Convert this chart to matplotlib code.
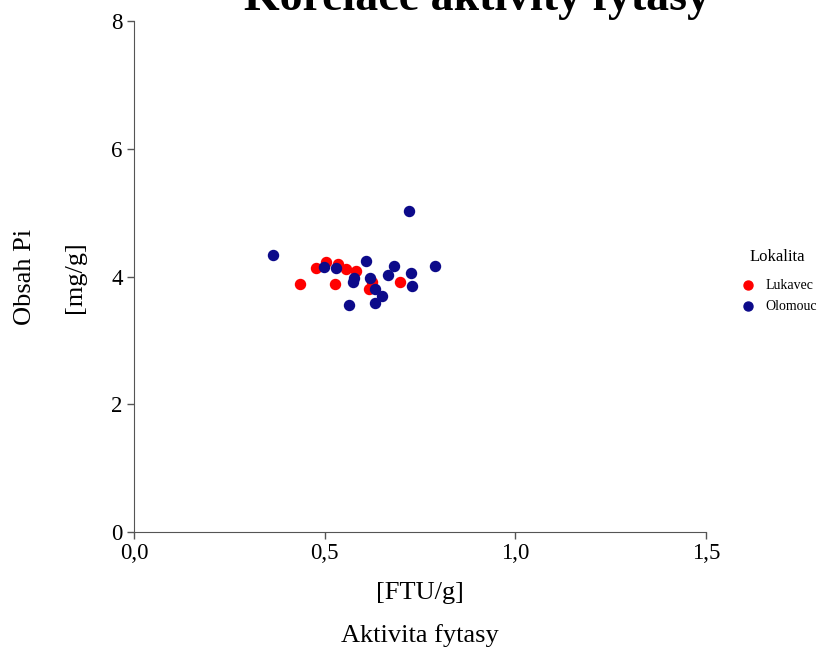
import numpy as np
import matplotlib
matplotlib.use("Agg")
import matplotlib.pyplot as plt

plt.rcParams['font.family'] = ['Liberation Serif', 'DejaVu Serif']

# Lukavec
luk_x = [0.504, 0.477, 0.536, 0.555, 0.582, 0.435, 0.527, 0.698, 0.623, 0.615]
luk_y = [4.23, 4.13, 4.19, 4.12, 4.08, 3.89, 3.89, 3.91, 3.92, 3.81]

# Olomouc
olo_x = [0.364, 0.721, 0.609, 0.681, 0.789, 0.497, 0.529, 0.725, 0.667,
         0.578, 0.575, 0.618, 0.730, 0.631, 0.651, 0.565, 0.632]
olo_y = [4.34, 5.02, 4.24, 4.17, 4.17, 4.15, 4.13, 4.06, 4.03,
         3.97, 3.91, 3.97, 3.85, 3.80, 3.70, 3.56, 3.58]

xticks = [0.0, 0.5, 1.0, 1.5]
xticklabels = ['0,0', '0,5', '1,0', '1,5']
yticks = [0, 2, 4, 6, 8]

fig = plt.figure(figsize=(8.22, 6.53), dpi=100)
ax = fig.add_axes([0.163, 0.1853, 0.696, 0.7825])

ax.scatter(luk_x, luk_y, s=52, color='#ff0000', label='Lukavec', zorder=3)
ax.scatter(olo_x, olo_y, s=52, color='#0c0a8a', label='Olomouc', zorder=3)

ax.set_xlim(0, 1.5)
ax.set_ylim(0, 8)
ax.set_xticks(xticks)
ax.set_xticklabels(xticklabels)
ax.set_yticks(yticks)
ax.tick_params(labelsize=16.5, length=5, width=1, color='#555555', pad=3)
for s in ['top', 'right']:
    ax.spines[s].set_visible(False)
for s in ['left', 'bottom']:
    ax.spines[s].set_color('#555555')

fig.text(25 / 822, 1 - 277 / 653, 'Obsah Pi', rotation=90, ha='center', va='center', fontsize=19)
fig.text(75 / 822, 1 - 277 / 653, '[mg/g]', rotation=90, ha='center', va='center', fontsize=19)
fig.text(420 / 822, 1 - 593 / 653, '[FTU/g]', ha='center', va='center', fontsize=19)
fig.text(420 / 822, 1 - 636 / 653, 'Aktivita fytasy', ha='center', va='center', fontsize=19)

fig.text(477 / 822, 1 - 10 / 653, 'Korelace aktivity fytasy', ha='center', va='baseline',
         fontsize=33, fontweight='bold')

leg = fig.legend(loc='center', bbox_to_anchor=(777 / 822, 1 - 281 / 653), frameon=False,
                 title='Lokalita', fontsize=10, title_fontsize=12, handletextpad=0.4,
                 handlelength=1.6, markerscale=0.9, labelspacing=0.6)
leg._legend_box.sep = 10

fig.savefig('out.png', dpi=100)
